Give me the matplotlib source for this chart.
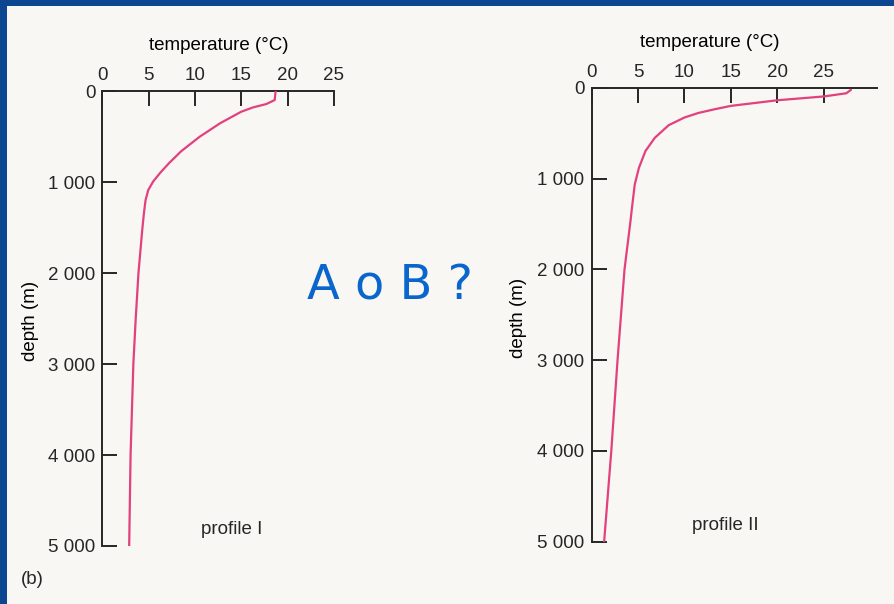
import matplotlib
matplotlib.use("Agg")
import matplotlib.pyplot as plt
from matplotlib.patches import Rectangle
from matplotlib import font_manager

# ── data ───────────────────────────────────────────────────────────────────
temp_I  = [18.7, 18.6, 17.7, 16.3, 15.0, 12.7, 10.5, 8.5, 7.2, 6.3, 5.5,
           4.96, 4.67, 4.49, 4.31, 3.9, 3.6, 3.35, 3.05, 2.9]
depth_I = [0, 96, 140, 176, 224, 352, 500, 660, 790, 890, 990,
           1085, 1195, 1341, 1524, 2000, 2510, 3000, 4000, 5000]

temp_II  = [27.9, 27.4, 25.0, 20.0, 15.0, 13.3, 11.5, 10.0, 8.3, 6.8, 5.8,
            5.1, 4.65, 4.35, 4.2, 3.55, 2.8, 2.13, 1.36]
depth_II = [20, 58, 93, 135, 197, 233, 275, 325, 410, 550, 695,
            880, 1064, 1322, 1460, 2000, 3000, 4000, 5000]

temp_ticks  = [0, 5, 10, 15, 20, 25]
depth_ticks = [0, 1000, 2000, 3000, 4000, 5000]
depth_labels = ["0", "1 000", "2 000", "3 000", "4 000", "5 000"]

# ── style ──────────────────────────────────────────────────────────────────
W, H = 895, 604
BLUE  = "#0c4590"
PAPER = "#f8f7f3"
PINK  = "#e2407e"
INK   = "#262626"
names = {f.name for f in font_manager.fontManager.ttflist}
NARROW = "Liberation Sans Narrow" in names
FONT  = ["Liberation Sans Narrow", "Liberation Sans", "DejaVu Sans"]
FS = 14 if NARROW else 13.5

plt.rcParams.update({
    "font.family": FONT, "font.size": FS,
    "axes.linewidth": 1.4, "axes.edgecolor": INK,
    "xtick.color": INK, "ytick.color": INK,
    "xtick.labelcolor": INK, "ytick.labelcolor": INK,
})

fig = plt.figure(figsize=(W/100, H/100), dpi=100)
fig.patch.set_facecolor(BLUE)
fig.patches.append(Rectangle((7/W, 0), 1, 1 - 6/H, transform=fig.transFigure,
                             facecolor=PAPER, edgecolor="none", zorder=-10))


def px_axes(x0, x1, y0, y1):
    # pixel box (left, right, top, bottom) -> figure fractions
    return fig.add_axes([x0/W, 1 - y1/H, (x1 - x0)/W, (y1 - y0)/H])


def profile(ax, temp, depth, xmax, label, lab_xy, ylab_xy, name, name_xy):
    ax.set_facecolor("none")
    ax.plot(temp, depth, color=PINK, lw=1.6, solid_capstyle="round",
            solid_joinstyle="round", zorder=3)
    ax.set_xlim(0, xmax)
    ax.set_ylim(5000, 0)
    for s in ("right", "bottom"):
        ax.spines[s].set_visible(False)
    ax.xaxis.tick_top()
    ax.set_xticks(temp_ticks)
    ax.set_yticks(depth_ticks, depth_labels)
    ax.tick_params(axis="both", direction="in", length=11, width=1.4,
                   labelsize=FS, pad=5)
    ax.xaxis.set_label_position("top")
    ax.set_xlabel(label, fontsize=FS, va="center")
    ax.xaxis.set_label_coords(*lab_xy)
    ax.set_ylabel("depth (m)", fontsize=FS, va="center")
    ax.yaxis.set_label_coords(*ylab_xy)
    fig.text(name_xy[0]/W, 1 - name_xy[1]/H, name, ha="center", va="center",
             fontsize=FS, color=INK)


ax1 = px_axes(102.3, 334, 91.3, 546)
profile(ax1, temp_I, depth_I, 25, "temperature (°C)", (0.504, 1.10),
        (-0.312, 0.495), "profile I", (232, 530))

ax2 = px_axes(591.5, 877, 88, 541.5)
profile(ax2, temp_II, depth_II, 30.7, "temperature (°C)", (0.415, 1.10),
        (-0.257, 0.493), "profile II", (725, 526))

fig.text(32/W, 1 - 580/H, "(b)", ha="center", va="center",
         fontsize=FS, color=INK)
fig.text(390/W, 1 - 300/H, "A o B ?", ha="center", va="baseline",
         fontsize=34.5, color="#0a66cc", family="DejaVu Sans")

fig.savefig("out.png", dpi=100, facecolor=fig.get_facecolor())
